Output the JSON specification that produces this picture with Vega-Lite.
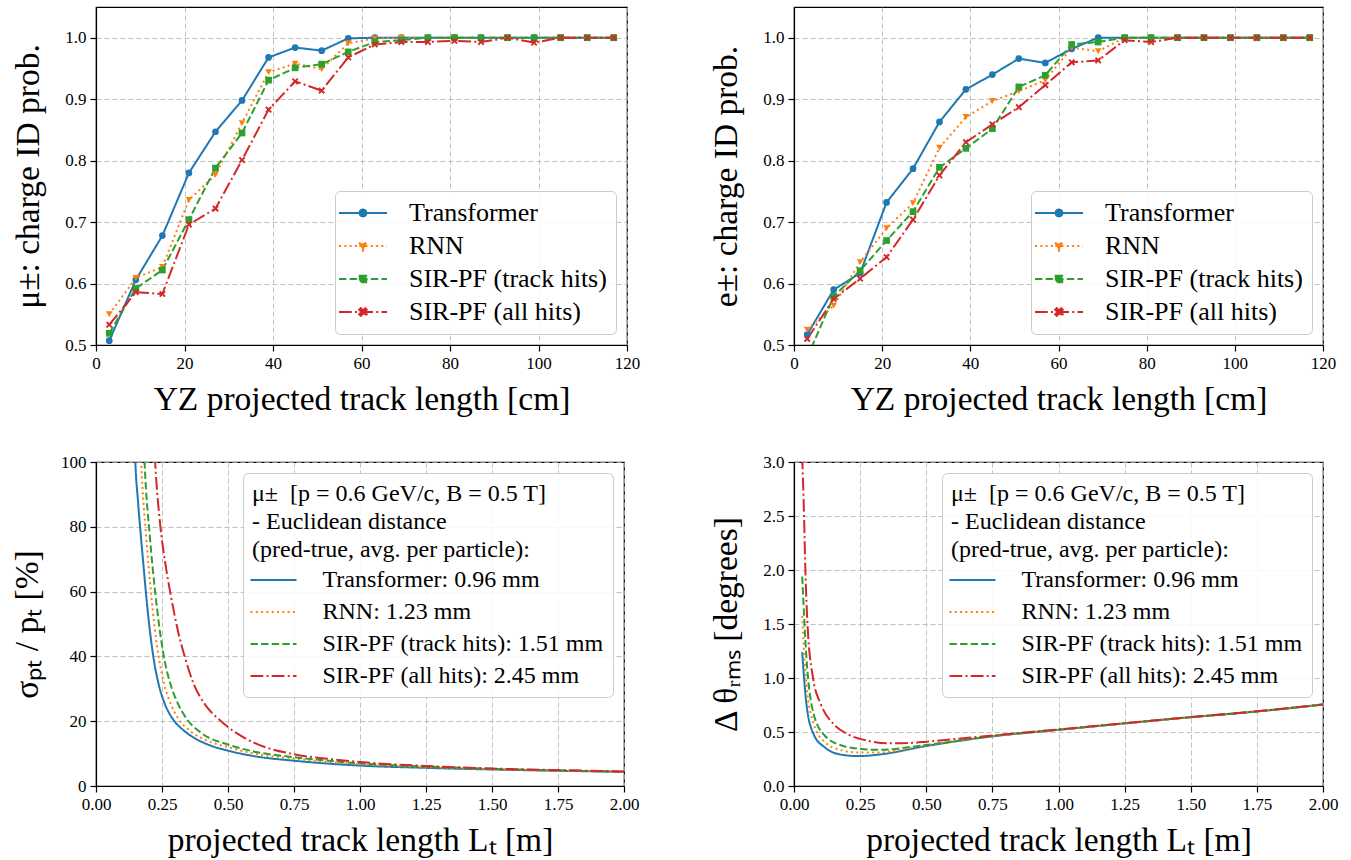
{
  "$schema": "https://vega.github.io/schema/vega-lite/v6.json",
  "padding": {"left": 9, "top": 6, "right": 5, "bottom": 5},
  "background": "white",
  "columns": 2,
  "bounds": "flush",
  "spacing": {"row": 117, "column": 167},
  "resolve": {"scale": {"color": "independent", "shape": "independent", "strokeDash": "independent"}, "legend": {"color": "independent", "shape": "independent", "strokeDash": "independent"}},
  "config": {
    "font": "Liberation Serif",
    "view": {"stroke": "black", "strokeWidth": 1.2},
    "axis": {
      "labelFont": "Liberation Serif", "labelFontSize": 17, "labelColor": "black",
      "titleFont": "Liberation Serif", "titleFontSize": 33.5, "titleFontWeight": "normal", "titleColor": "black",
      "domainColor": "black", "domainWidth": 1.2, "tickColor": "black", "tickWidth": 1.2, "tickSize": 6,
      "gridColor": "#b0b0b0", "gridDash": [5, 3], "gridWidth": 0.8,
      "labelPadding": 4, "titlePadding": 12, "labelFlush": false, "labelOverlap": false
    },
    "axisY": {"titlePadding": 19}
  },
  "datasets": {
    "mu": [
      {"m": "Transformer", "x": 3, "y": 0.507}, {"m": "Transformer", "x": 9, "y": 0.606}, {"m": "Transformer", "x": 15, "y": 0.678}, {"m": "Transformer", "x": 21, "y": 0.780}, {"m": "Transformer", "x": 27, "y": 0.847}, {"m": "Transformer", "x": 33, "y": 0.898}, {"m": "Transformer", "x": 39, "y": 0.968}, {"m": "Transformer", "x": 45, "y": 0.984}, {"m": "Transformer", "x": 51, "y": 0.979}, {"m": "Transformer", "x": 57, "y": 0.999}, {"m": "Transformer", "x": 63, "y": 1.0}, {"m": "Transformer", "x": 69, "y": 1.0}, {"m": "Transformer", "x": 75, "y": 1.0}, {"m": "Transformer", "x": 81, "y": 1.0}, {"m": "Transformer", "x": 87, "y": 1.0}, {"m": "Transformer", "x": 93, "y": 1.0}, {"m": "Transformer", "x": 99, "y": 1.0}, {"m": "Transformer", "x": 105, "y": 1.0}, {"m": "Transformer", "x": 111, "y": 1.0}, {"m": "Transformer", "x": 117, "y": 1.0},
      {"m": "RNN", "x": 3, "y": 0.550}, {"m": "RNN", "x": 9, "y": 0.609}, {"m": "RNN", "x": 15, "y": 0.627}, {"m": "RNN", "x": 21, "y": 0.736}, {"m": "RNN", "x": 27, "y": 0.777}, {"m": "RNN", "x": 33, "y": 0.861}, {"m": "RNN", "x": 39, "y": 0.944}, {"m": "RNN", "x": 45, "y": 0.958}, {"m": "RNN", "x": 51, "y": 0.949}, {"m": "RNN", "x": 57, "y": 0.991}, {"m": "RNN", "x": 63, "y": 0.999}, {"m": "RNN", "x": 69, "y": 1.0}, {"m": "RNN", "x": 75, "y": 1.0}, {"m": "RNN", "x": 81, "y": 1.0}, {"m": "RNN", "x": 87, "y": 1.0}, {"m": "RNN", "x": 93, "y": 1.0}, {"m": "RNN", "x": 99, "y": 1.0}, {"m": "RNN", "x": 105, "y": 1.0}, {"m": "RNN", "x": 111, "y": 1.0}, {"m": "RNN", "x": 117, "y": 1.0},
      {"m": "SIR-PF (track hits)", "x": 3, "y": 0.519}, {"m": "SIR-PF (track hits)", "x": 9, "y": 0.592}, {"m": "SIR-PF (track hits)", "x": 15, "y": 0.622}, {"m": "SIR-PF (track hits)", "x": 21, "y": 0.704}, {"m": "SIR-PF (track hits)", "x": 27, "y": 0.788}, {"m": "SIR-PF (track hits)", "x": 33, "y": 0.845}, {"m": "SIR-PF (track hits)", "x": 39, "y": 0.931}, {"m": "SIR-PF (track hits)", "x": 45, "y": 0.951}, {"m": "SIR-PF (track hits)", "x": 51, "y": 0.957}, {"m": "SIR-PF (track hits)", "x": 57, "y": 0.977}, {"m": "SIR-PF (track hits)", "x": 63, "y": 0.993}, {"m": "SIR-PF (track hits)", "x": 69, "y": 0.996}, {"m": "SIR-PF (track hits)", "x": 75, "y": 1.0}, {"m": "SIR-PF (track hits)", "x": 81, "y": 1.0}, {"m": "SIR-PF (track hits)", "x": 87, "y": 1.0}, {"m": "SIR-PF (track hits)", "x": 93, "y": 1.0}, {"m": "SIR-PF (track hits)", "x": 99, "y": 1.0}, {"m": "SIR-PF (track hits)", "x": 105, "y": 1.0}, {"m": "SIR-PF (track hits)", "x": 111, "y": 1.0}, {"m": "SIR-PF (track hits)", "x": 117, "y": 1.0},
      {"m": "SIR-PF (all hits)", "x": 3, "y": 0.533}, {"m": "SIR-PF (all hits)", "x": 9, "y": 0.586}, {"m": "SIR-PF (all hits)", "x": 15, "y": 0.583}, {"m": "SIR-PF (all hits)", "x": 21, "y": 0.696}, {"m": "SIR-PF (all hits)", "x": 27, "y": 0.722}, {"m": "SIR-PF (all hits)", "x": 33, "y": 0.801}, {"m": "SIR-PF (all hits)", "x": 39, "y": 0.883}, {"m": "SIR-PF (all hits)", "x": 45, "y": 0.929}, {"m": "SIR-PF (all hits)", "x": 51, "y": 0.914}, {"m": "SIR-PF (all hits)", "x": 57, "y": 0.968}, {"m": "SIR-PF (all hits)", "x": 63, "y": 0.989}, {"m": "SIR-PF (all hits)", "x": 69, "y": 0.993}, {"m": "SIR-PF (all hits)", "x": 75, "y": 0.993}, {"m": "SIR-PF (all hits)", "x": 81, "y": 0.995}, {"m": "SIR-PF (all hits)", "x": 87, "y": 0.993}, {"m": "SIR-PF (all hits)", "x": 93, "y": 1.0}, {"m": "SIR-PF (all hits)", "x": 99, "y": 0.992}, {"m": "SIR-PF (all hits)", "x": 105, "y": 1.0}, {"m": "SIR-PF (all hits)", "x": 111, "y": 1.0}, {"m": "SIR-PF (all hits)", "x": 117, "y": 1.0}
    ],
    "el": [
      {"m": "Transformer", "x": 3, "y": 0.517}, {"m": "Transformer", "x": 9, "y": 0.590}, {"m": "Transformer", "x": 15, "y": 0.617}, {"m": "Transformer", "x": 21, "y": 0.732}, {"m": "Transformer", "x": 27, "y": 0.787}, {"m": "Transformer", "x": 33, "y": 0.863}, {"m": "Transformer", "x": 39, "y": 0.916}, {"m": "Transformer", "x": 45, "y": 0.940}, {"m": "Transformer", "x": 51, "y": 0.966}, {"m": "Transformer", "x": 57, "y": 0.959}, {"m": "Transformer", "x": 63, "y": 0.982}, {"m": "Transformer", "x": 69, "y": 1.0}, {"m": "Transformer", "x": 75, "y": 1.0}, {"m": "Transformer", "x": 81, "y": 1.0}, {"m": "Transformer", "x": 87, "y": 1.0}, {"m": "Transformer", "x": 93, "y": 1.0}, {"m": "Transformer", "x": 99, "y": 1.0}, {"m": "Transformer", "x": 105, "y": 1.0}, {"m": "Transformer", "x": 111, "y": 1.0}, {"m": "Transformer", "x": 117, "y": 1.0},
      {"m": "RNN", "x": 3, "y": 0.525}, {"m": "RNN", "x": 9, "y": 0.564}, {"m": "RNN", "x": 15, "y": 0.635}, {"m": "RNN", "x": 21, "y": 0.690}, {"m": "RNN", "x": 27, "y": 0.731}, {"m": "RNN", "x": 33, "y": 0.821}, {"m": "RNN", "x": 39, "y": 0.871}, {"m": "RNN", "x": 45, "y": 0.897}, {"m": "RNN", "x": 51, "y": 0.913}, {"m": "RNN", "x": 57, "y": 0.931}, {"m": "RNN", "x": 63, "y": 0.984}, {"m": "RNN", "x": 69, "y": 0.978}, {"m": "RNN", "x": 75, "y": 1.0}, {"m": "RNN", "x": 81, "y": 1.0}, {"m": "RNN", "x": 87, "y": 1.0}, {"m": "RNN", "x": 93, "y": 1.0}, {"m": "RNN", "x": 99, "y": 1.0}, {"m": "RNN", "x": 105, "y": 1.0}, {"m": "RNN", "x": 111, "y": 1.0}, {"m": "RNN", "x": 117, "y": 1.0},
      {"m": "SIR-PF (track hits)", "x": 3, "y": 0.48}, {"m": "SIR-PF (track hits)", "x": 9, "y": 0.579}, {"m": "SIR-PF (track hits)", "x": 15, "y": 0.621}, {"m": "SIR-PF (track hits)", "x": 21, "y": 0.670}, {"m": "SIR-PF (track hits)", "x": 27, "y": 0.717}, {"m": "SIR-PF (track hits)", "x": 33, "y": 0.789}, {"m": "SIR-PF (track hits)", "x": 39, "y": 0.820}, {"m": "SIR-PF (track hits)", "x": 45, "y": 0.852}, {"m": "SIR-PF (track hits)", "x": 51, "y": 0.920}, {"m": "SIR-PF (track hits)", "x": 57, "y": 0.939}, {"m": "SIR-PF (track hits)", "x": 63, "y": 0.989}, {"m": "SIR-PF (track hits)", "x": 69, "y": 0.993}, {"m": "SIR-PF (track hits)", "x": 75, "y": 1.0}, {"m": "SIR-PF (track hits)", "x": 81, "y": 1.0}, {"m": "SIR-PF (track hits)", "x": 87, "y": 1.0}, {"m": "SIR-PF (track hits)", "x": 93, "y": 1.0}, {"m": "SIR-PF (track hits)", "x": 99, "y": 1.0}, {"m": "SIR-PF (track hits)", "x": 105, "y": 1.0}, {"m": "SIR-PF (track hits)", "x": 111, "y": 1.0}, {"m": "SIR-PF (track hits)", "x": 117, "y": 1.0},
      {"m": "SIR-PF (all hits)", "x": 3, "y": 0.510}, {"m": "SIR-PF (all hits)", "x": 9, "y": 0.575}, {"m": "SIR-PF (all hits)", "x": 15, "y": 0.608}, {"m": "SIR-PF (all hits)", "x": 21, "y": 0.643}, {"m": "SIR-PF (all hits)", "x": 27, "y": 0.704}, {"m": "SIR-PF (all hits)", "x": 33, "y": 0.776}, {"m": "SIR-PF (all hits)", "x": 39, "y": 0.830}, {"m": "SIR-PF (all hits)", "x": 45, "y": 0.859}, {"m": "SIR-PF (all hits)", "x": 51, "y": 0.887}, {"m": "SIR-PF (all hits)", "x": 57, "y": 0.923}, {"m": "SIR-PF (all hits)", "x": 63, "y": 0.960}, {"m": "SIR-PF (all hits)", "x": 69, "y": 0.963}, {"m": "SIR-PF (all hits)", "x": 75, "y": 0.996}, {"m": "SIR-PF (all hits)", "x": 81, "y": 0.993}, {"m": "SIR-PF (all hits)", "x": 87, "y": 1.0}, {"m": "SIR-PF (all hits)", "x": 93, "y": 1.0}, {"m": "SIR-PF (all hits)", "x": 99, "y": 1.0}, {"m": "SIR-PF (all hits)", "x": 105, "y": 1.0}, {"m": "SIR-PF (all hits)", "x": 111, "y": 1.0}, {"m": "SIR-PF (all hits)", "x": 117, "y": 1.0}
    ],
    "pt": [
      {"m": "Transformer: 0.96 mm", "x": 0.14, "y": 125}, {"m": "Transformer: 0.96 mm", "x": 0.149, "y": 100}, {"m": "Transformer: 0.96 mm", "x": 0.159, "y": 88}, {"m": "Transformer: 0.96 mm", "x": 0.169, "y": 78}, {"m": "Transformer: 0.96 mm", "x": 0.18, "y": 68}, {"m": "Transformer: 0.96 mm", "x": 0.191, "y": 58}, {"m": "Transformer: 0.96 mm", "x": 0.204, "y": 48}, {"m": "Transformer: 0.96 mm", "x": 0.217, "y": 40}, {"m": "Transformer: 0.96 mm", "x": 0.237, "y": 31.5}, {"m": "Transformer: 0.96 mm", "x": 0.26, "y": 25.5}, {"m": "Transformer: 0.96 mm", "x": 0.29, "y": 20.8}, {"m": "Transformer: 0.96 mm", "x": 0.33, "y": 17.3}, {"m": "Transformer: 0.96 mm", "x": 0.369, "y": 15}, {"m": "Transformer: 0.96 mm", "x": 0.43, "y": 12.6}, {"m": "Transformer: 0.96 mm", "x": 0.5, "y": 10.9}, {"m": "Transformer: 0.96 mm", "x": 0.6, "y": 9.2}, {"m": "Transformer: 0.96 mm", "x": 0.75, "y": 7.8}, {"m": "Transformer: 0.96 mm", "x": 1.0, "y": 6.3}, {"m": "Transformer: 0.96 mm", "x": 1.25, "y": 5.6}, {"m": "Transformer: 0.96 mm", "x": 1.5, "y": 5.1}, {"m": "Transformer: 0.96 mm", "x": 1.75, "y": 4.7}, {"m": "Transformer: 0.96 mm", "x": 2.0, "y": 4.4},
      {"m": "RNN: 1.23 mm", "x": 0.16, "y": 125}, {"m": "RNN: 1.23 mm", "x": 0.171, "y": 100}, {"m": "RNN: 1.23 mm", "x": 0.19, "y": 77}, {"m": "RNN: 1.23 mm", "x": 0.208, "y": 60}, {"m": "RNN: 1.23 mm", "x": 0.222, "y": 49}, {"m": "RNN: 1.23 mm", "x": 0.237, "y": 40}, {"m": "RNN: 1.23 mm", "x": 0.26, "y": 31}, {"m": "RNN: 1.23 mm", "x": 0.285, "y": 25}, {"m": "RNN: 1.23 mm", "x": 0.31, "y": 21}, {"m": "RNN: 1.23 mm", "x": 0.36, "y": 16.8}, {"m": "RNN: 1.23 mm", "x": 0.42, "y": 14}, {"m": "RNN: 1.23 mm", "x": 0.5, "y": 12.0}, {"m": "RNN: 1.23 mm", "x": 0.6, "y": 10}, {"m": "RNN: 1.23 mm", "x": 0.75, "y": 8.5}, {"m": "RNN: 1.23 mm", "x": 1.0, "y": 6.7}, {"m": "RNN: 1.23 mm", "x": 1.25, "y": 5.8}, {"m": "RNN: 1.23 mm", "x": 1.5, "y": 5.2}, {"m": "RNN: 1.23 mm", "x": 1.75, "y": 4.8}, {"m": "RNN: 1.23 mm", "x": 2.0, "y": 4.4},
      {"m": "SIR-PF (track hits): 1.51 mm", "x": 0.175, "y": 120}, {"m": "SIR-PF (track hits): 1.51 mm", "x": 0.184, "y": 100}, {"m": "SIR-PF (track hits): 1.51 mm", "x": 0.204, "y": 77}, {"m": "SIR-PF (track hits): 1.51 mm", "x": 0.224, "y": 60}, {"m": "SIR-PF (track hits): 1.51 mm", "x": 0.24, "y": 49}, {"m": "SIR-PF (track hits): 1.51 mm", "x": 0.257, "y": 40}, {"m": "SIR-PF (track hits): 1.51 mm", "x": 0.28, "y": 32}, {"m": "SIR-PF (track hits): 1.51 mm", "x": 0.31, "y": 25.5}, {"m": "SIR-PF (track hits): 1.51 mm", "x": 0.343, "y": 20.8}, {"m": "SIR-PF (track hits): 1.51 mm", "x": 0.4, "y": 16.3}, {"m": "SIR-PF (track hits): 1.51 mm", "x": 0.5, "y": 12.8}, {"m": "SIR-PF (track hits): 1.51 mm", "x": 0.6, "y": 10.6}, {"m": "SIR-PF (track hits): 1.51 mm", "x": 0.75, "y": 8.9}, {"m": "SIR-PF (track hits): 1.51 mm", "x": 1.0, "y": 7.0}, {"m": "SIR-PF (track hits): 1.51 mm", "x": 1.25, "y": 6.0}, {"m": "SIR-PF (track hits): 1.51 mm", "x": 1.5, "y": 5.3}, {"m": "SIR-PF (track hits): 1.51 mm", "x": 1.75, "y": 4.8}, {"m": "SIR-PF (track hits): 1.51 mm", "x": 2.0, "y": 4.4},
      {"m": "SIR-PF (all hits): 2.45 mm", "x": 0.215, "y": 115}, {"m": "SIR-PF (all hits): 2.45 mm", "x": 0.224, "y": 100}, {"m": "SIR-PF (all hits): 2.45 mm", "x": 0.244, "y": 80}, {"m": "SIR-PF (all hits): 2.45 mm", "x": 0.262, "y": 69}, {"m": "SIR-PF (all hits): 2.45 mm", "x": 0.283, "y": 59}, {"m": "SIR-PF (all hits): 2.45 mm", "x": 0.31, "y": 48}, {"m": "SIR-PF (all hits): 2.45 mm", "x": 0.336, "y": 40}, {"m": "SIR-PF (all hits): 2.45 mm", "x": 0.37, "y": 31.5}, {"m": "SIR-PF (all hits): 2.45 mm", "x": 0.41, "y": 25.5}, {"m": "SIR-PF (all hits): 2.45 mm", "x": 0.474, "y": 20}, {"m": "SIR-PF (all hits): 2.45 mm", "x": 0.5, "y": 18.2}, {"m": "SIR-PF (all hits): 2.45 mm", "x": 0.6, "y": 13.3}, {"m": "SIR-PF (all hits): 2.45 mm", "x": 0.75, "y": 9.8}, {"m": "SIR-PF (all hits): 2.45 mm", "x": 0.9, "y": 8.2}, {"m": "SIR-PF (all hits): 2.45 mm", "x": 1.0, "y": 7.4}, {"m": "SIR-PF (all hits): 2.45 mm", "x": 1.25, "y": 6.2}, {"m": "SIR-PF (all hits): 2.45 mm", "x": 1.5, "y": 5.4}, {"m": "SIR-PF (all hits): 2.45 mm", "x": 1.75, "y": 4.9}, {"m": "SIR-PF (all hits): 2.45 mm", "x": 2.0, "y": 4.5}
    ],
    "th": [
      {"m": "Transformer: 0.96 mm", "x": 0.031, "y": 1.24}, {"m": "Transformer: 0.96 mm", "x": 0.047, "y": 0.76}, {"m": "Transformer: 0.96 mm", "x": 0.074, "y": 0.48}, {"m": "Transformer: 0.96 mm", "x": 0.115, "y": 0.36}, {"m": "Transformer: 0.96 mm", "x": 0.18, "y": 0.29}, {"m": "Transformer: 0.96 mm", "x": 0.243, "y": 0.277}, {"m": "Transformer: 0.96 mm", "x": 0.318, "y": 0.29}, {"m": "Transformer: 0.96 mm", "x": 0.5, "y": 0.37}, {"m": "Transformer: 0.96 mm", "x": 0.75, "y": 0.46}, {"m": "Transformer: 0.96 mm", "x": 1.0, "y": 0.52}, {"m": "Transformer: 0.96 mm", "x": 1.25, "y": 0.58}, {"m": "Transformer: 0.96 mm", "x": 1.5, "y": 0.637}, {"m": "Transformer: 0.96 mm", "x": 1.75, "y": 0.69}, {"m": "Transformer: 0.96 mm", "x": 2.0, "y": 0.754},
      {"m": "RNN: 1.23 mm", "x": 0.031, "y": 1.575}, {"m": "RNN: 1.23 mm", "x": 0.047, "y": 0.94}, {"m": "RNN: 1.23 mm", "x": 0.074, "y": 0.58}, {"m": "RNN: 1.23 mm", "x": 0.115, "y": 0.41}, {"m": "RNN: 1.23 mm", "x": 0.18, "y": 0.33}, {"m": "RNN: 1.23 mm", "x": 0.25, "y": 0.31}, {"m": "RNN: 1.23 mm", "x": 0.318, "y": 0.31}, {"m": "RNN: 1.23 mm", "x": 0.5, "y": 0.375}, {"m": "RNN: 1.23 mm", "x": 0.75, "y": 0.46}, {"m": "RNN: 1.23 mm", "x": 1.0, "y": 0.52}, {"m": "RNN: 1.23 mm", "x": 1.25, "y": 0.58}, {"m": "RNN: 1.23 mm", "x": 1.5, "y": 0.637}, {"m": "RNN: 1.23 mm", "x": 1.75, "y": 0.69}, {"m": "RNN: 1.23 mm", "x": 2.0, "y": 0.754},
      {"m": "SIR-PF (track hits): 1.51 mm", "x": 0.031, "y": 1.94}, {"m": "SIR-PF (track hits): 1.51 mm", "x": 0.047, "y": 1.19}, {"m": "SIR-PF (track hits): 1.51 mm", "x": 0.074, "y": 0.67}, {"m": "SIR-PF (track hits): 1.51 mm", "x": 0.115, "y": 0.47}, {"m": "SIR-PF (track hits): 1.51 mm", "x": 0.18, "y": 0.375}, {"m": "SIR-PF (track hits): 1.51 mm", "x": 0.25, "y": 0.345}, {"m": "SIR-PF (track hits): 1.51 mm", "x": 0.318, "y": 0.335}, {"m": "SIR-PF (track hits): 1.51 mm", "x": 0.5, "y": 0.38}, {"m": "SIR-PF (track hits): 1.51 mm", "x": 0.75, "y": 0.462}, {"m": "SIR-PF (track hits): 1.51 mm", "x": 1.0, "y": 0.521}, {"m": "SIR-PF (track hits): 1.51 mm", "x": 1.25, "y": 0.58}, {"m": "SIR-PF (track hits): 1.51 mm", "x": 1.5, "y": 0.637}, {"m": "SIR-PF (track hits): 1.51 mm", "x": 1.75, "y": 0.69}, {"m": "SIR-PF (track hits): 1.51 mm", "x": 2.0, "y": 0.754},
      {"m": "SIR-PF (all hits): 2.45 mm", "x": 0.031, "y": 3.05}, {"m": "SIR-PF (all hits): 2.45 mm", "x": 0.038, "y": 2.5}, {"m": "SIR-PF (all hits): 2.45 mm", "x": 0.043, "y": 2.0}, {"m": "SIR-PF (all hits): 2.45 mm", "x": 0.051, "y": 1.5}, {"m": "SIR-PF (all hits): 2.45 mm", "x": 0.072, "y": 1.0}, {"m": "SIR-PF (all hits): 2.45 mm", "x": 0.101, "y": 0.76}, {"m": "SIR-PF (all hits): 2.45 mm", "x": 0.149, "y": 0.575}, {"m": "SIR-PF (all hits): 2.45 mm", "x": 0.203, "y": 0.48}, {"m": "SIR-PF (all hits): 2.45 mm", "x": 0.277, "y": 0.42}, {"m": "SIR-PF (all hits): 2.45 mm", "x": 0.358, "y": 0.395}, {"m": "SIR-PF (all hits): 2.45 mm", "x": 0.453, "y": 0.40}, {"m": "SIR-PF (all hits): 2.45 mm", "x": 0.5, "y": 0.41}, {"m": "SIR-PF (all hits): 2.45 mm", "x": 0.75, "y": 0.468}, {"m": "SIR-PF (all hits): 2.45 mm", "x": 1.0, "y": 0.524}, {"m": "SIR-PF (all hits): 2.45 mm", "x": 1.25, "y": 0.582}, {"m": "SIR-PF (all hits): 2.45 mm", "x": 1.5, "y": 0.638}, {"m": "SIR-PF (all hits): 2.45 mm", "x": 1.75, "y": 0.692}, {"m": "SIR-PF (all hits): 2.45 mm", "x": 2.0, "y": 0.756}
    ]
  },
  "concat": [
    {
      "width": 531, "height": 338,
      "data": {"name": "mu"},
      "encoding": {
        "x": {"field": "x", "type": "quantitative", "scale": {"domain": [0, 120], "nice": false}, "axis": {"values": [0, 20, 40, 60, 80, 100, 120], "title": "YZ projected track length [cm]"}},
        "y": {"field": "y", "type": "quantitative", "scale": {"domain": [0.5, 1.05], "nice": false, "zero": false}, "axis": {"values": [0.5, 0.6, 0.7, 0.8, 0.9, 1.0], "format": ".1f", "title": "μ±: charge ID prob."}},
        "color": {"field": "m", "type": "nominal", "scale": {"domain": ["Transformer", "RNN", "SIR-PF (track hits)", "SIR-PF (all hits)"], "range": ["#1f77b4", "#ff7f0e", "#2ca02c", "#d62728"]},
          "legend": {"title": null, "orient": "bottom-right", "offset": 11, "padding": 9, "fillColor": "rgba(255,255,255,0.85)", "strokeColor": "#cccccc", "cornerRadius": 5, "labelFont": "Liberation Serif", "labelFontSize": 26, "labelColor": "black", "labelLimit": 400, "symbolSize": 100, "symbolStrokeWidth": 2, "symbolOffset": 6, "labelOffset": 33, "rowPadding": 7,
            "encode": {"symbols": {"update": {
              "shape": {"signal": "datum.value==='Transformer' ? 'M-4.8,0L4.8,0M0.7,0L0.606,0.35L0.35,0.606L0,0.7L-0.35,0.606L-0.606,0.35L-0.7,0L-0.606,-0.35L-0.35,-0.606L0,-0.7L0.35,-0.606L0.606,-0.35Z' : datum.value==='RNN' ? 'M-4.8,0L4.8,0M-0.85,-0.55L0.85,-0.55L0,0.9Z' : datum.value==='SIR-PF (track hits)' ? 'M-4.8,0L4.8,0M-0.65,-0.65L0.65,-0.65L0.65,0.65L-0.65,0.65Z' : 'M-4.8,0L4.8,0M-0.75,-0.45L-0.45,-0.75L0,-0.3L0.45,-0.75L0.75,-0.45L0.3,0L0.75,0.45L0.45,0.75L0,0.3L-0.45,0.75L-0.75,0.45L-0.3,0Z'"},
              "strokeDash": {"signal": "datum.value==='Transformer' ? [1,0] : datum.value==='RNN' ? [2,3.3] : datum.value==='SIR-PF (track hits)' ? [7.4,3.2] : [12.8,3.2,2,3.2]"},
              "fill": {"signal": "datum.value==='Transformer' ? '#1f77b4' : datum.value==='RNN' ? '#ff7f0e' : datum.value==='SIR-PF (track hits)' ? '#2ca02c' : '#d62728'"},
              "stroke": {"signal": "datum.value==='Transformer' ? '#1f77b4' : datum.value==='RNN' ? '#ff7f0e' : datum.value==='SIR-PF (track hits)' ? '#2ca02c' : '#d62728'"},
              "strokeWidth": {"value": 2},
              "opacity": {"value": 1}
            }}}}
        }
      },
      "layer": [
        {"mark": {"type": "line", "strokeWidth": 2, "clip": true},
         "encoding": {"strokeDash": {"field": "m", "type": "nominal", "scale": {"domain": ["RNN", "Transformer", "SIR-PF (all hits)", "SIR-PF (track hits)"], "range": [[2, 3.3], [1, 0], [12.8, 3.2, 2, 3.2], [7.4, 3.2]]}, "legend": null}}},
        {"mark": {"type": "point", "filled": true, "size": 45, "opacity": 1, "clip": true},
         "encoding": {"shape": {"field": "m", "type": "nominal", "scale": {"domain": ["SIR-PF (all hits)", "SIR-PF (track hits)", "RNN", "Transformer"], "range": ["M-1,-0.6L-0.6,-1L0,-0.4L0.6,-1L1,-0.6L0.4,0L1,0.6L0.6,1L0,0.4L-0.6,1L-1,0.6L-0.4,0Z", "square", "triangle-down", "circle"]}, "legend": null}}}
      ]
    },
    {
      "width": 529, "height": 338,
      "data": {"name": "el"},
      "encoding": {
        "x": {"field": "x", "type": "quantitative", "scale": {"domain": [0, 120], "nice": false}, "axis": {"values": [0, 20, 40, 60, 80, 100, 120], "title": "YZ projected track length [cm]"}},
        "y": {"field": "y", "type": "quantitative", "scale": {"domain": [0.5, 1.05], "nice": false, "zero": false}, "axis": {"values": [0.5, 0.6, 0.7, 0.8, 0.9, 1.0], "format": ".1f", "title": "e±: charge ID prob."}},
        "color": {"field": "m", "type": "nominal", "scale": {"domain": ["Transformer", "RNN", "SIR-PF (track hits)", "SIR-PF (all hits)"], "range": ["#1f77b4", "#ff7f0e", "#2ca02c", "#d62728"]},
          "legend": {"title": null, "orient": "bottom-right", "offset": 11, "padding": 9, "fillColor": "rgba(255,255,255,0.85)", "strokeColor": "#cccccc", "cornerRadius": 5, "labelFont": "Liberation Serif", "labelFontSize": 26, "labelColor": "black", "labelLimit": 400, "symbolSize": 100, "symbolStrokeWidth": 2, "symbolOffset": 6, "labelOffset": 33, "rowPadding": 7,
            "encode": {"symbols": {"update": {
              "shape": {"signal": "datum.value==='Transformer' ? 'M-4.8,0L4.8,0M0.7,0L0.606,0.35L0.35,0.606L0,0.7L-0.35,0.606L-0.606,0.35L-0.7,0L-0.606,-0.35L-0.35,-0.606L0,-0.7L0.35,-0.606L0.606,-0.35Z' : datum.value==='RNN' ? 'M-4.8,0L4.8,0M-0.85,-0.55L0.85,-0.55L0,0.9Z' : datum.value==='SIR-PF (track hits)' ? 'M-4.8,0L4.8,0M-0.65,-0.65L0.65,-0.65L0.65,0.65L-0.65,0.65Z' : 'M-4.8,0L4.8,0M-0.75,-0.45L-0.45,-0.75L0,-0.3L0.45,-0.75L0.75,-0.45L0.3,0L0.75,0.45L0.45,0.75L0,0.3L-0.45,0.75L-0.75,0.45L-0.3,0Z'"},
              "strokeDash": {"signal": "datum.value==='Transformer' ? [1,0] : datum.value==='RNN' ? [2,3.3] : datum.value==='SIR-PF (track hits)' ? [7.4,3.2] : [12.8,3.2,2,3.2]"},
              "fill": {"signal": "datum.value==='Transformer' ? '#1f77b4' : datum.value==='RNN' ? '#ff7f0e' : datum.value==='SIR-PF (track hits)' ? '#2ca02c' : '#d62728'"},
              "stroke": {"signal": "datum.value==='Transformer' ? '#1f77b4' : datum.value==='RNN' ? '#ff7f0e' : datum.value==='SIR-PF (track hits)' ? '#2ca02c' : '#d62728'"},
              "strokeWidth": {"value": 2},
              "opacity": {"value": 1}
            }}}}
        }
      },
      "layer": [
        {"mark": {"type": "line", "strokeWidth": 2, "clip": true},
         "encoding": {"strokeDash": {"field": "m", "type": "nominal", "scale": {"domain": ["RNN", "Transformer", "SIR-PF (all hits)", "SIR-PF (track hits)"], "range": [[2, 3.3], [1, 0], [12.8, 3.2, 2, 3.2], [7.4, 3.2]]}, "legend": null}}},
        {"mark": {"type": "point", "filled": true, "size": 45, "opacity": 1, "clip": true},
         "encoding": {"shape": {"field": "m", "type": "nominal", "scale": {"domain": ["SIR-PF (all hits)", "SIR-PF (track hits)", "RNN", "Transformer"], "range": ["M-1,-0.6L-0.6,-1L0,-0.4L0.6,-1L1,-0.6L0.4,0L1,0.6L0.6,1L0,0.4L-0.6,1L-1,0.6L-0.4,0Z", "square", "triangle-down", "circle"]}, "legend": null}}}
      ]
    },
    {
      "width": 528, "height": 324,
      "data": {"name": "pt"},
      "mark": {"type": "line", "strokeWidth": 2, "clip": true, "interpolate": "monotone"},
      "encoding": {
        "x": {"field": "x", "type": "quantitative", "scale": {"domain": [0, 2], "nice": false}, "axis": {"values": [0, 0.25, 0.5, 0.75, 1, 1.25, 1.5, 1.75, 2], "format": ".2f", "title": "projected track length Lₜ [m]"}},
        "y": {"field": "y", "type": "quantitative", "scale": {"domain": [0, 100], "nice": false}, "axis": {"values": [0, 20, 40, 60, 80, 100], "format": "d", "title": "σₚₜ / pₜ [%]", "titlePadding": 16}},
        "strokeDash": {"field": "m", "type": "nominal", "scale": {"domain": ["Transformer: 0.96 mm", "RNN: 1.23 mm", "SIR-PF (track hits): 1.51 mm", "SIR-PF (all hits): 2.45 mm"], "range": [[1, 0], [2, 3.3], [7.4, 3.2], [12.8, 3.2, 2, 3.2]]}, "legend": null},
        "color": {"field": "m", "type": "nominal", "scale": {"domain": ["Transformer: 0.96 mm", "RNN: 1.23 mm", "SIR-PF (track hits): 1.51 mm", "SIR-PF (all hits): 2.45 mm"], "range": ["#1f77b4", "#ff7f0e", "#2ca02c", "#d62728"]},
          "legend": {"title": ["μ±\u00a0\u00a0[p = 0.6 GeV/c, B = 0.5 T]", "- Euclidean distance", "\u00a0\u00a0\u00a0(pred-true, avg. per particle):"], "titleFont": "Liberation Serif", "titleFontSize": 24, "titleFontWeight": "normal", "titleColor": "black", "titleLineHeight": 28, "titleLimit": 500, "titlePadding": 6,
            "orient": "top-right", "offset": 11, "padding": 9, "fillColor": "rgba(255,255,255,0.85)", "strokeColor": "#cccccc", "cornerRadius": 5, "labelFont": "Liberation Serif", "labelFontSize": 24, "labelColor": "black", "labelLimit": 500, "symbolSize": 100, "symbolStrokeWidth": 2, "symbolOffset": 9.5, "labelOffset": 37, "rowPadding": 8,
            "encode": {"symbols": {"update": {
              "shape": {"value": "M-4.6,0L4.6,0"},
              "strokeDash": {"signal": "datum.value==='Transformer: 0.96 mm' ? [1,0] : datum.value==='RNN: 1.23 mm' ? [2,3.3] : datum.value==='SIR-PF (track hits): 1.51 mm' ? [7.4,3.2] : [12.8,3.2,2,3.2]"},
              "fill": {"value": "transparent"},
              "stroke": {"signal": "datum.value==='Transformer: 0.96 mm' ? '#1f77b4' : datum.value==='RNN: 1.23 mm' ? '#ff7f0e' : datum.value==='SIR-PF (track hits): 1.51 mm' ? '#2ca02c' : '#d62728'"},
              "strokeWidth": {"value": 2},
              "opacity": {"value": 1}
            }}}}
        }
      }
    },
    {
      "width": 529, "height": 324,
      "data": {"name": "th"},
      "mark": {"type": "line", "strokeWidth": 2, "clip": true, "interpolate": "monotone"},
      "encoding": {
        "x": {"field": "x", "type": "quantitative", "scale": {"domain": [0, 2], "nice": false}, "axis": {"values": [0, 0.25, 0.5, 0.75, 1, 1.25, 1.5, 1.75, 2], "format": ".2f", "title": "projected track length Lₜ [m]"}},
        "y": {"field": "y", "type": "quantitative", "scale": {"domain": [0, 3], "nice": false}, "axis": {"values": [0, 0.5, 1, 1.5, 2, 2.5, 3], "format": ".1f", "title": "Δ θᵣₘₛ [degrees]"}},
        "strokeDash": {"field": "m", "type": "nominal", "scale": {"domain": ["Transformer: 0.96 mm", "RNN: 1.23 mm", "SIR-PF (track hits): 1.51 mm", "SIR-PF (all hits): 2.45 mm"], "range": [[1, 0], [2, 3.3], [7.4, 3.2], [12.8, 3.2, 2, 3.2]]}, "legend": null},
        "color": {"field": "m", "type": "nominal", "scale": {"domain": ["Transformer: 0.96 mm", "RNN: 1.23 mm", "SIR-PF (track hits): 1.51 mm", "SIR-PF (all hits): 2.45 mm"], "range": ["#1f77b4", "#ff7f0e", "#2ca02c", "#d62728"]},
          "legend": {"title": ["μ±\u00a0\u00a0[p = 0.6 GeV/c, B = 0.5 T]", "- Euclidean distance", "\u00a0\u00a0\u00a0(pred-true, avg. per particle):"], "titleFont": "Liberation Serif", "titleFontSize": 24, "titleFontWeight": "normal", "titleColor": "black", "titleLineHeight": 28, "titleLimit": 500, "titlePadding": 6,
            "orient": "top-right", "offset": 11, "padding": 9, "fillColor": "rgba(255,255,255,0.85)", "strokeColor": "#cccccc", "cornerRadius": 5, "labelFont": "Liberation Serif", "labelFontSize": 24, "labelColor": "black", "labelLimit": 500, "symbolSize": 100, "symbolStrokeWidth": 2, "symbolOffset": 9.5, "labelOffset": 37, "rowPadding": 8,
            "encode": {"symbols": {"update": {
              "shape": {"value": "M-4.6,0L4.6,0"},
              "strokeDash": {"signal": "datum.value==='Transformer: 0.96 mm' ? [1,0] : datum.value==='RNN: 1.23 mm' ? [2,3.3] : datum.value==='SIR-PF (track hits): 1.51 mm' ? [7.4,3.2] : [12.8,3.2,2,3.2]"},
              "fill": {"value": "transparent"},
              "stroke": {"signal": "datum.value==='Transformer: 0.96 mm' ? '#1f77b4' : datum.value==='RNN: 1.23 mm' ? '#ff7f0e' : datum.value==='SIR-PF (track hits): 1.51 mm' ? '#2ca02c' : '#d62728'"},
              "strokeWidth": {"value": 2},
              "opacity": {"value": 1}
            }}}}
        }
      }
    }
  ]
}
